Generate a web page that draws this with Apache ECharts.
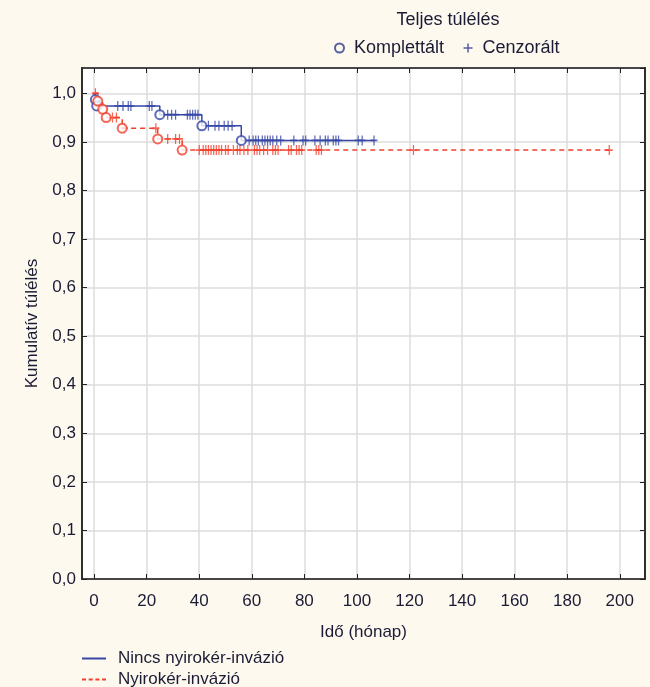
<!DOCTYPE html>
<html>
<head>
<meta charset="utf-8">
<script src="https://cdn.jsdelivr.net/npm/echarts@6/dist/echarts.min.js"></script>
<style>
html,body{margin:0;padding:0;background:#fdf9ee;}
#chart{width:650px;height:687px;}
</style>
</head>
<body>
<div id="chart"></div>
<script>
// ---- Data ----
const xTickValues = [0, 20, 40, 60, 80, 100, 120, 140, 160, 180, 200];

// Nincs nyirokér-invázió (blue) — Kaplan–Meier step points
const blueTimes = [0, 0.5, 1, 25, 41, 56, 107];
const blueSurv  = [1.0, 0.987, 0.974, 0.956, 0.933, 0.903, 0.903];
const blueEventTimes = [0.5, 1, 25, 41, 56];
const blueEventSurv  = [0.987, 0.974, 0.956, 0.933, 0.903];
const blueCensorTimes = [9, 11, 13, 14, 21, 22,
  28, 29.5, 31, 35.5, 36.5, 37.5, 38.5, 39.5,
  43.5, 46, 47.5, 49.5, 51, 52.5,
  59, 60.5, 61.5, 62.5, 64, 65, 66, 67, 68, 69.5, 71, 76, 79.5, 80.5, 84, 86, 88, 89, 91, 92, 93, 100.5, 102, 106.5];

// Nyirokér-invázió (red)
const redTimes = [0, 1.4, 3.3, 4.6, 10.7, 24.2, 33.5, 196];
const redSurv  = [1.0, 0.984, 0.967, 0.95, 0.928, 0.906, 0.883, 0.883];
const redEventTimes = [1.4, 3.3, 4.6, 10.7, 24.2, 33.5];
const redEventSurv  = [0.984, 0.967, 0.95, 0.928, 0.906, 0.883];
const redCensorTimes = [0.5, 7, 8.5, 11.5, 23.5, 28, 31, 32.5,
  40, 41.5, 42.5, 43.5, 44.5, 45.5, 46.5, 47.5, 48.5, 50, 51, 53, 54.5, 55.5, 57, 58.5,
  61, 62, 63, 64.5, 66, 68, 69, 70, 74, 75, 77, 78, 79, 84.5, 85.5, 86.5, 121.5, 196];

const seriesNames = ['Nincs nyirokér-invázió', 'Nyirokér-invázió'];
const markerNames = ['Komplettált', 'Cenzorált'];
// ---------------

function zip(a, b) { return a.map((v, i) => [v, b[i]]); }
function survAt(times, surv, t) {
  let s = surv[0];
  for (let i = 0; i < times.length; i++) { if (times[i] <= t) s = surv[i]; }
  return s;
}
function censorPts(times, surv, cts) { return cts.map(t => [t, survAt(times, surv, t)]); }

const BLUE = '#3646a6', RED = '#f2402c', TXT = '#1b1b36', NAVY = '#2b3a8f';
const plusPath = 'path://M-1,0L1,0M0,-1L0,1';
const solidIcon = 'path://M0,0h24v2h-24z';
const dashIcon = 'path://M0,0h4v2h-4zM6.7,0h4v2h-4zM13.4,0h4v2h-4zM20,0h4v2h-4z';
const FS = 17;

const chart = echarts.init(document.getElementById('chart'), null, {renderer: 'canvas'});
const fmt = v => v.toFixed(1).replace('.', ',');

chart.setOption({
  backgroundColor: '#fdf9ee',
  animation: false,
  textStyle: {fontFamily: 'Liberation Sans, Arial, sans-serif', color: TXT},
  title: {
    text: 'Teljes túlélés', left: 443, top: 6, textAlign: 'center',
    textStyle: {fontSize: 18, fontWeight: 'normal', color: TXT}
  },
  legend: [{
    data: [
      {name: markerNames[0], icon: 'circle', itemStyle: {color: '#fdf9ee', borderColor: NAVY, borderWidth: 2}},
      {name: markerNames[1], icon: plusPath, itemStyle: {color: 'none', borderColor: NAVY, borderWidth: 1.5}}
    ],
    left: 329, top: 34, itemWidth: 9, itemHeight: 9, itemGap: 17,
    textStyle: {fontSize: 18, color: TXT, padding: [0, 0, 0, 5]}
  }, {
    data: [{name: seriesNames[0], icon: solidIcon}],
    left: 82, top: 650, itemWidth: 24, itemHeight: 2, padding: 0,
    textStyle: {fontSize: FS, color: TXT, padding: [0, 0, 0, 7]}
  }, {
    data: [{name: seriesNames[1], icon: dashIcon}],
    left: 82, top: 671, itemWidth: 24, itemHeight: 2, padding: 0,
    textStyle: {fontSize: FS, color: TXT, padding: [0, 0, 0, 7]}
  }],
  grid: {left: 82, right: 5, top: 68, bottom: 108, show: true, backgroundColor: '#ffffff', borderColor: '#222', borderWidth: 1.5},
  xAxis: [{
    type: 'value', min: -4.6, max: 209.6, position: 'bottom',
    name: 'Idő (hónap)', nameLocation: 'middle', nameGap: 45,
    nameTextStyle: {fontSize: FS, color: TXT},
    axisLine: {show: true, onZero: false, lineStyle: {color: '#222', width: 1.5}},
    axisTick: {show: true, inside: true, length: 5, customValues: xTickValues, lineStyle: {color: '#222'}},
    axisLabel: {customValues: xTickValues, fontSize: FS, color: TXT, margin: 14},
    splitLine: {show: true, lineStyle: {color: '#dcdcdc', width: 1.5}}
  }, {
    type: 'value', min: -4.6, max: 209.6, position: 'top',
    axisLine: {show: true, onZero: false, lineStyle: {color: '#222', width: 1.5}},
    axisTick: {show: true, inside: true, length: 5, customValues: xTickValues, lineStyle: {color: '#222'}},
    axisLabel: {show: false, customValues: xTickValues},
    splitLine: {show: false}
  }],
  yAxis: [{
    type: 'value', min: 0, max: 1.052, interval: 0.1, position: 'left',
    name: 'Kumulatív túlélés', nameLocation: 'middle', nameGap: 41, nameRotate: 90,
    nameTextStyle: {fontSize: FS, color: TXT},
    axisLine: {show: true, onZero: false, lineStyle: {color: '#222', width: 1.5}},
    axisTick: {show: true, inside: true, length: 5, lineStyle: {color: '#222'}},
    axisLabel: {fontSize: FS, color: TXT, margin: 6, showMaxLabel: false, formatter: fmt},
    splitLine: {show: true, lineStyle: {color: '#dcdcdc', width: 1.5}}
  }, {
    type: 'value', min: 0, max: 1.052, interval: 0.1, position: 'right',
    axisLine: {show: true, onZero: false, lineStyle: {color: '#222', width: 1.5}},
    axisTick: {show: true, inside: true, length: 5, lineStyle: {color: '#222'}},
    axisLabel: {show: false},
    splitLine: {show: false}
  }],
  series: [
    {name: seriesNames[0], type: 'line', step: 'end', symbol: 'none', color: BLUE,
     lineStyle: {color: BLUE, width: 1.5}, data: zip(blueTimes, blueSurv), z: 2},
    {name: seriesNames[1], type: 'line', step: 'end', symbol: 'none', color: RED,
     lineStyle: {color: RED, width: 1.5, type: [5, 4]}, data: zip(redTimes, redSurv), z: 2},
    {name: 'blue-censor', type: 'scatter', symbol: plusPath, symbolSize: [7, 10],
     itemStyle: {color: 'none', borderColor: BLUE, borderWidth: 1.5}, data: censorPts(blueTimes, blueSurv, blueCensorTimes), z: 3},
    {name: 'red-censor', type: 'scatter', symbol: plusPath, symbolSize: [7, 10],
     itemStyle: {color: 'none', borderColor: RED, borderWidth: 1.5}, data: censorPts(redTimes, redSurv, redCensorTimes), z: 3},
    {name: 'blue-event', type: 'scatter', symbol: 'circle', symbolSize: 9,
     itemStyle: {color: '#ffffff', borderColor: BLUE, borderWidth: 2}, data: zip(blueEventTimes, blueEventSurv), z: 4},
    {name: 'red-event', type: 'scatter', symbol: 'circle', symbolSize: 9,
     itemStyle: {color: '#ffffff', borderColor: RED, borderWidth: 2}, data: zip(redEventTimes, redEventSurv), z: 4},
    // legend-only entries for marker types
    {name: markerNames[0], type: 'scatter', data: [], color: NAVY},
    {name: markerNames[1], type: 'scatter', data: [], color: NAVY}
  ]
});
</script>
</body>
</html>
